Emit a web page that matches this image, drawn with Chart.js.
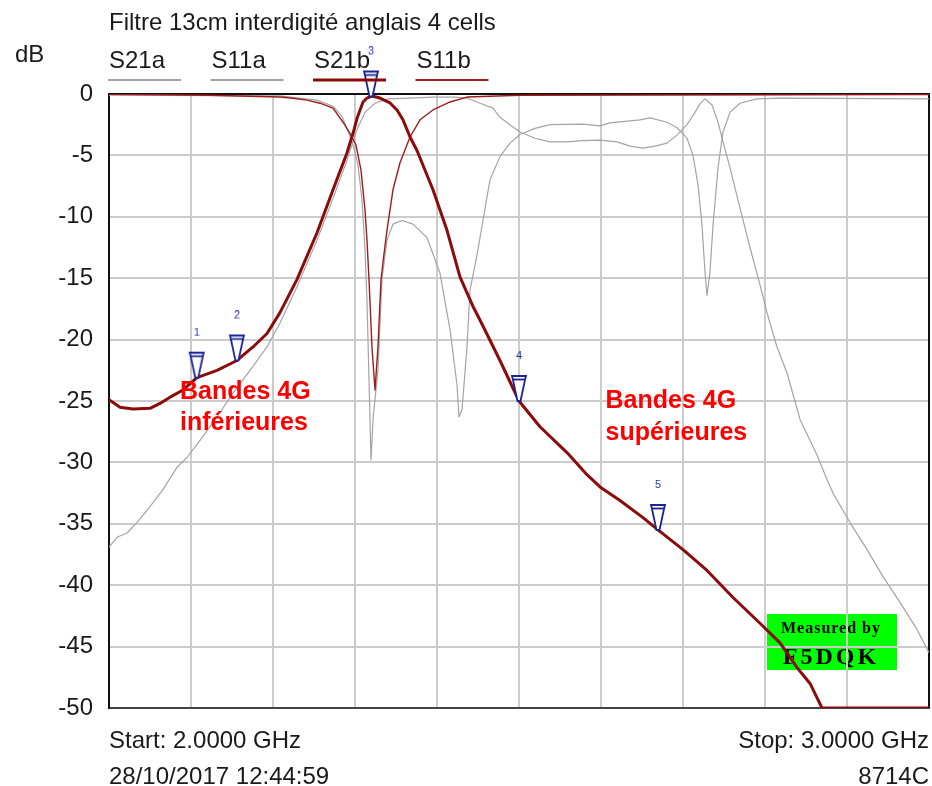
<!DOCTYPE html>
<html>
<head>
<meta charset="utf-8">
<script src="https://cdn.jsdelivr.net/npm/chart.js@4.4.1/dist/chart.umd.min.js"></script>
<style>
  html, body { margin: 0; padding: 0; background: #fff; }
</style>
</head>
<body>
<canvas id="vna" width="932" height="786"></canvas>
<script>
// sweep 2.0 - 3.0 GHz, everything in dB

// filter "a" (grey traces)
const s21aFreq = [2.0, 2.0098, 2.022, 2.0341, 2.05, 2.0659, 2.0829, 2.0951, 2.111, 2.1317, 2.1512, 2.172, 2.1927,
  2.2085, 2.2293, 2.2537, 2.2732, 2.2902, 2.3024, 2.3122, 2.3244, 2.3402, 2.3671, 2.3951, 2.422, 2.4366, 2.4524,
  2.4683, 2.4768, 2.489, 2.5012, 2.5195, 2.5378, 2.5585, 2.578, 2.5988, 2.6195, 2.6354, 2.6512, 2.6659, 2.6805,
  2.6927, 2.7049, 2.7146, 2.7207, 2.7268, 2.7354, 2.7427, 2.7488, 2.7573, 2.7695, 2.7817, 2.7939, 2.8024, 2.8146,
  2.8268, 2.8427, 2.8634, 2.8756, 2.8829, 2.9037, 2.9244, 2.9439, 2.9646, 2.9854, 3.0];
const s21aDb = [-36.9, -36.1, -35.75, -34.9, -33.6, -32.2, -30.4, -29.6, -28.2, -26.3, -24.35, -22.5, -20.6,
  -18.65, -15.7, -11.9, -8.5, -5.4, -2.9, -1.5, -0.75, -0.4, -0.33, -0.25, -0.25, -0.33, -0.75,
  -1.15, -1.9, -2.5, -3.1, -3.6, -3.9, -3.9, -3.8, -3.75, -3.9, -4.25, -4.4, -4.25, -4.0,
  -3.35, -2.5, -1.5, -0.8, -0.4, -0.9, -2.3, -3.9, -6.0, -9.3, -12.5, -15.55, -17.8, -20.6,
  -22.7, -26.5, -29.4, -31.4, -32.5, -34.9, -37.1, -39.3, -41.4, -43.6, -45.5];

const s11aFreq = [2.0, 2.2085, 2.2537, 2.2732, 2.2841, 2.2902, 2.2976, 2.3037, 2.3085, 2.3122, 2.3146, 2.3171,
  2.3195, 2.322, 2.3244, 2.328, 2.3329, 2.339, 2.3463, 2.3573, 2.3707, 2.3878, 2.4037, 2.4159, 2.4244, 2.4268,
  2.4305, 2.4366, 2.4402, 2.4488, 2.4561, 2.4646, 2.4768, 2.489, 2.5012, 2.5195, 2.5378, 2.578, 2.5988, 2.611,
  2.6476, 2.6598, 2.6805, 2.6927, 2.7049, 2.7122, 2.7183, 2.7232, 2.7268, 2.7293, 2.7329, 2.7366, 2.7427, 2.7488,
  2.7573, 2.7695, 2.7902, 2.8183, 3.0];
const s11aDb = [-0.1, -0.15, -0.5, -1.0, -1.8, -2.8, -4.15, -5.8, -8.6, -12.7, -16.8, -23.3,
  -29.8, -26.5, -24.9, -22.5, -15.1, -11.9, -10.6, -10.3, -10.6, -11.7, -14.6, -19.2, -23.7, -26.3,
  -25.7, -20.6, -16.0, -13.1, -10.3, -7.0, -5.1, -4.0, -3.3, -2.8, -2.5, -2.45, -2.6, -2.35,
  -2.1, -1.95, -2.3, -2.75, -3.6, -5.0, -7.4, -10.7, -14.5, -16.4, -14.5, -10.7, -6.0, -3.1,
  -1.5, -0.75, -0.4, -0.33, -0.4];

// filter "b" (red traces, the 13cm interdigital)
const s21bFreq = [2.0, 2.0134, 2.0293, 2.05, 2.0622, 2.0768, 2.0902, 2.1073, 2.1317, 2.1561, 2.1756, 2.1927,
  2.2085, 2.2293, 2.2537, 2.2732, 2.2902, 2.2976, 2.3024, 2.3098, 2.3146, 2.3207, 2.3305, 2.3427, 2.3512, 2.3585,
  2.3671, 2.3756, 2.3951, 2.4122, 2.428, 2.4439, 2.4524, 2.4768, 2.5, 2.5256, 2.5585, 2.5829, 2.5988, 2.6232,
  2.6512, 2.6695, 2.7, 2.7293, 2.761, 2.7939, 2.8183, 2.839, 2.8549, 2.8695, 3.0];
const s21bDb = [-24.9, -25.5, -25.65, -25.6, -25.2, -24.6, -24.1, -23.1, -22.5, -21.7, -20.6, -19.5,
  -17.8, -15.1, -11.3, -7.8, -4.8, -3.2, -2.0, -0.65, -0.33, -0.16, -0.33, -0.73, -1.3, -2.1,
  -3.5, -4.6, -7.8, -11.1, -14.9, -17.3, -18.4, -21.7, -25.0, -27.1, -29.2, -31.0, -32.0, -33.1,
  -34.5, -35.5, -37.1, -38.8, -41.0, -43.1, -44.7, -46.7, -48.0, -50.0, -50.0];

const s11bFreq = [2.0, 2.12, 2.2085, 2.2244, 2.2415, 2.2573, 2.2732, 2.2854, 2.2939, 2.3012, 2.3073, 2.3122,
  2.3146, 2.3171, 2.3207, 2.3244, 2.328, 2.3317, 2.3341, 2.339, 2.3463, 2.3549, 2.3671, 2.3793, 2.3951, 2.4159,
  2.4366, 2.5012, 3.0];
const s11bDb = [-0.02, -0.1, -0.25, -0.35, -0.5, -0.75, -1.15, -2.3, -3.2, -4.15, -6.2, -9.45,
  -11.9, -15.15, -20.6, -24.1, -20.6, -15.15, -13.7, -11.1, -7.8, -5.6, -3.5, -2.1, -1.3, -0.65,
  -0.25, -0.1, -0.05];

// markers 1..5 placed on S21b
const markerLabels = ['1', '2', '3', '4', '5'];
const markerFreq = [2.107, 2.156, 2.3195, 2.5, 2.6695];
const markerDb = [-23.1, -21.7, -0.2, -25.0, -35.5];

const yTicks = { min: -50, max: 0, step: 5 };
const legendOrder = ['S21a', 'S11a', 'S21b', 'S11b'];

const FONT = '"Liberation Sans", Arial, sans-serif';
const TXT = '#1a1a1a';

function pts(fr, db) {
  return fr.map((f, i) => ({ x: f, y: db[i] }));
}

// little VNA marker: flat top, narrow tip, number above it. tip sits at image centre
function markerImage(label) {
  const c = document.createElement('canvas');
  c.width = 24; c.height = 100;
  const g = c.getContext('2d');
  const cx = 12, tip = 50;
  g.lineWidth = 1.8;
  g.strokeStyle = '#1c2496';
  g.fillStyle = '#fff';
  g.beginPath();
  g.moveTo(cx - 7, tip - 25);
  g.lineTo(cx + 7, tip - 25);
  g.lineTo(cx + 6, tip - 21);
  g.lineTo(cx + 1.5, tip);
  g.lineTo(cx - 1.5, tip);
  g.lineTo(cx - 6, tip - 21);
  g.closePath();
  g.fill();
  g.stroke();
  g.beginPath();
  g.moveTo(cx - 6, tip - 21.5);
  g.lineTo(cx + 6, tip - 21.5);
  g.stroke();
  g.fillStyle = '#2c30c0';
  g.font = '11px ' + FONT;
  g.textAlign = 'center';
  g.textBaseline = 'middle';
  g.fillText(label, cx, tip - 45);
  return c;
}

// "Measured by" stamp sits under the grid
const stampPlugin = {
  id: 'stamp',
  beforeDraw(chart) {
    const ctx = chart.ctx;
    const x0 = 767, y0 = 614, w = 130, h = 56;
    ctx.save();
    ctx.fillStyle = '#00ff00';
    ctx.fillRect(x0, y0, w, h);
    ctx.fillStyle = '#000';
    ctx.textAlign = 'center';
    ctx.textBaseline = 'alphabetic';
    ctx.font = 'bold 16px "Liberation Serif", "Times New Roman", serif';
    ctx.letterSpacing = '1px';
    ctx.fillText('Measured by', x0 + w / 2 - 1, 633);
    ctx.font = 'bold 24px "Liberation Serif", "Times New Roman", serif';
    ctx.letterSpacing = '3px';
    ctx.fillText('F5DQK', x0 + w / 2 - 1, 664);
    ctx.restore();
  }
};

const framePlugin = {
  id: 'frame',
  beforeDatasetsDraw(chart) {
    const { ctx, chartArea: a } = chart;
    ctx.save();
    ctx.strokeStyle = '#111';
    ctx.lineWidth = 2;
    ctx.beginPath();
    ctx.moveTo(a.left, a.top);
    ctx.lineTo(a.right, a.top);
    ctx.lineTo(a.right, a.bottom);
    ctx.stroke();
    ctx.restore();
  }
};

const textPlugin = {
  id: 'texts',
  afterDraw(chart) {
    const { ctx, chartArea: a, scales } = chart;
    ctx.save();
    ctx.font = '24px ' + FONT;
    ctx.fillStyle = TXT;
    ctx.textBaseline = 'alphabetic';
    ctx.textAlign = 'left';
    ctx.fillText('Filtre 13cm interdigité anglais 4 cells', a.left, 30);
    ctx.fillText('dB', 15, 62);

    // legend: names with a coloured underline
    legendOrder.forEach((name, i) => {
      const ds = chart.data.datasets.find(d => d.label === name);
      const x = a.left + i * 102.5;
      ctx.fillStyle = TXT;
      ctx.fillText(name, x, 68);
      ctx.strokeStyle = ds.borderColor;
      ctx.lineWidth = ds.borderWidth >= 2 ? 3 : 2;
      ctx.beginPath();
      ctx.moveTo(x - 1, 80);
      ctx.lineTo(x + 72, 80);
      ctx.stroke();
    });

    ctx.fillStyle = TXT;
    ctx.fillText('Start: 2.0000 GHz', a.left, 748);
    ctx.fillText('28/10/2017 12:44:59', a.left, 784);
    ctx.textAlign = 'right';
    ctx.fillText('Stop: 3.0000 GHz', a.right, 748);
    ctx.fillText('8714C', a.right, 784);

    // band notes
    const xs = scales.x, ys = scales.y;
    ctx.font = 'bold 25px ' + FONT;
    ctx.fillStyle = '#ff0000';
    ctx.textAlign = 'left';
    let x = xs.getPixelForValue(2.0866), y = ys.getPixelForValue(-24.8);
    ctx.fillText('Bandes 4G', x, y);
    ctx.fillText('inférieures', x, y + 31);
    x = xs.getPixelForValue(2.6055); y = ys.getPixelForValue(-25.6);
    ctx.fillText('Bandes 4G', x, y);
    ctx.fillText('supérieures', x, y + 32);
    ctx.restore();
  }
};

const grey = '#a4a4a4';

new Chart(document.getElementById('vna'), {
  type: 'line',
  data: {
    datasets: [
      {
        label: 'markers',
        data: pts(markerFreq, markerDb),
        showLine: false,
        pointStyle: markerLabels.map(markerImage),
        pointRadius: 5,
        clip: false,
        order: 0
      },
      {
        label: 'S21b',
        data: pts(s21bFreq, s21bDb),
        borderColor: '#8b0a0a',
        borderWidth: 3,
        order: 1
      },
      {
        label: 'S11b',
        data: pts(s11bFreq, s11bDb),
        borderColor: '#a01c1c',
        borderWidth: 1.4,
        order: 2
      },
      {
        label: 'S11a',
        data: pts(s11aFreq, s11aDb),
        borderColor: grey,
        borderWidth: 1.2,
        order: 3
      },
      {
        label: 'S21a',
        data: pts(s21aFreq, s21aDb),
        borderColor: grey,
        borderWidth: 1.2,
        order: 4
      }
    ]
  },
  options: {
    responsive: false,
    animation: false,
    events: [],
    layout: { autoPadding: false, padding: { left: 0, top: 94, right: 3, bottom: 78 } },
    elements: {
      line: { tension: 0, fill: false, borderJoinStyle: 'round' },
      point: { radius: 0 }
    },
    plugins: {
      legend: { display: false },
      title: { display: false },
      tooltip: { enabled: false }
    },
    scales: {
      x: {
        type: 'linear',
        min: 2,
        max: 3,
        ticks: { stepSize: 0.1, display: false },
        grid: { color: '#cccccc', lineWidth: 2, drawTicks: false },
        border: { color: '#444', width: 2 },
        afterFit(scale) { scale.height = 0; }
      },
      y: {
        min: yTicks.min,
        max: yTicks.max,
        ticks: { stepSize: yTicks.step, color: TXT, padding: 16, font: { size: 24, family: FONT } },
        grid: { color: '#cccccc', lineWidth: 2, drawTicks: false },
        border: { color: '#111', width: 2 },
        afterFit(scale) { scale.width = 109; }
      }
    }
  },
  plugins: [stampPlugin, framePlugin, textPlugin]
});
</script>
</body>
</html>
